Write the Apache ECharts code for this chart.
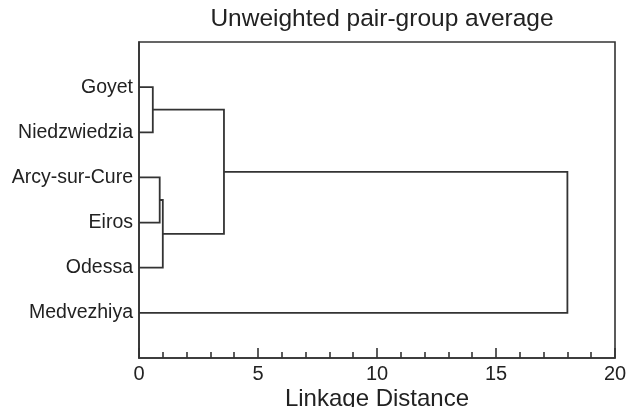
<!DOCTYPE html>
<html lang="en">
<head>
    <meta charset="UTF-8">
    <title>Dendrogram</title>
    <script src="https://cdn.jsdelivr.net/npm/echarts@6/dist/echarts.min.js"></script>
</head>
<style>
html,body{margin:0;padding:0;background-color:#fff}
#chartBox{width:628px;height:407px}
</style>
<body>
    <div id="chartBox"></div>
</body>
<script>
// leaves, top to bottom
var leaves = ['Goyet', 'Niedzwiedzia', 'Arcy-sur-Cure', 'Eiros', 'Odessa', 'Medvezhiya'];
// merges (linkage style: ids 0-5 are leaves, 6.. are new clusters in order)
var mergeA = [0, 2, 7, 6, 9];
var mergeB = [1, 3, 4, 8, 5];
var mergeHeight = [0.58, 0.87, 1.0, 3.57, 18];
var xTicks = [0, 5, 10, 15, 20];

var FONT = '"Liberation Sans", Arial, sans-serif';

// build the elbow links from the merge table
function buildLinks(){
    var pos = leaves.map(function(_, i){ return i + 1; });
    var hgt = leaves.map(function(){ return 0; });
    var links = [];
    for (var k = 0; k < mergeA.length; k++) {
        var a = mergeA[k], b = mergeB[k], h = mergeHeight[k];
        links.push({coords: [[hgt[a], pos[a]], [h, pos[a]], [h, pos[b]], [hgt[b], pos[b]]]});
        pos.push((pos[a] + pos[b]) / 2);
        hgt.push(h);
    }
    return links;
}

function generateChartOption(){
    return {
        animation: false,
        textStyle: {fontFamily: FONT},
        title: {
            text: 'Unweighted pair-group average',
            left: 377,
            top: 2,
            textAlign: 'center',
            textStyle: {fontSize: 24.5, fontWeight: 'normal', color: '#222', fontFamily: FONT}
        },
        grid: {
            show: true,
            left: 139,
            right: 13,
            top: 42,
            bottom: 49,
            outerBoundsMode: 'none',
            containLabel: false,
            borderColor: '#333',
            borderWidth: 1.6,
            backgroundColor: 'transparent'
        },
        xAxis: {
            type: 'value',
            min: xTicks[0],
            max: xTicks[xTicks.length - 1],
            interval: 5,
            name: 'Linkage Distance',
            nameLocation: 'middle',
            nameGap: 29,
            nameMoveOverlap: false,
            nameTextStyle: {fontSize: 24, color: '#222'},
            axisLine: {show: true, onZero: false, lineStyle: {color: '#333', width: 1.6}},
            axisTick: {show: true, inside: true, length: 10, lineStyle: {color: '#333', width: 1.6}},
            minorTick: {show: true, splitNumber: 5, length: 6, lineStyle: {color: '#333', width: 1.6}},
            axisLabel: {fontSize: 20, color: '#222', margin: 6},
            splitLine: {show: false}
        },
        yAxis: {
            type: 'value',
            min: 0,
            max: leaves.length + 1,
            interval: 1,
            inverse: true,
            axisLine: {show: true, lineStyle: {color: '#333', width: 1.6}},
            axisTick: {show: false},
            axisLabel: {
                fontSize: 19.5,
                color: '#222',
                margin: 6,
                formatter: function(v){ return leaves[v - 1] || ''; }
            },
            splitLine: {show: false}
        },
        series: [{
            type: 'lines',
            coordinateSystem: 'cartesian2d',
            polyline: true,
            silent: true,
            lineStyle: {color: '#333', width: 1.8, opacity: 1},
            data: buildLinks()
        }]
    };
}

var chartObj = echarts.init(document.getElementById('chartBox'));
chartObj.setOption(generateChartOption());
</script>
</html>
